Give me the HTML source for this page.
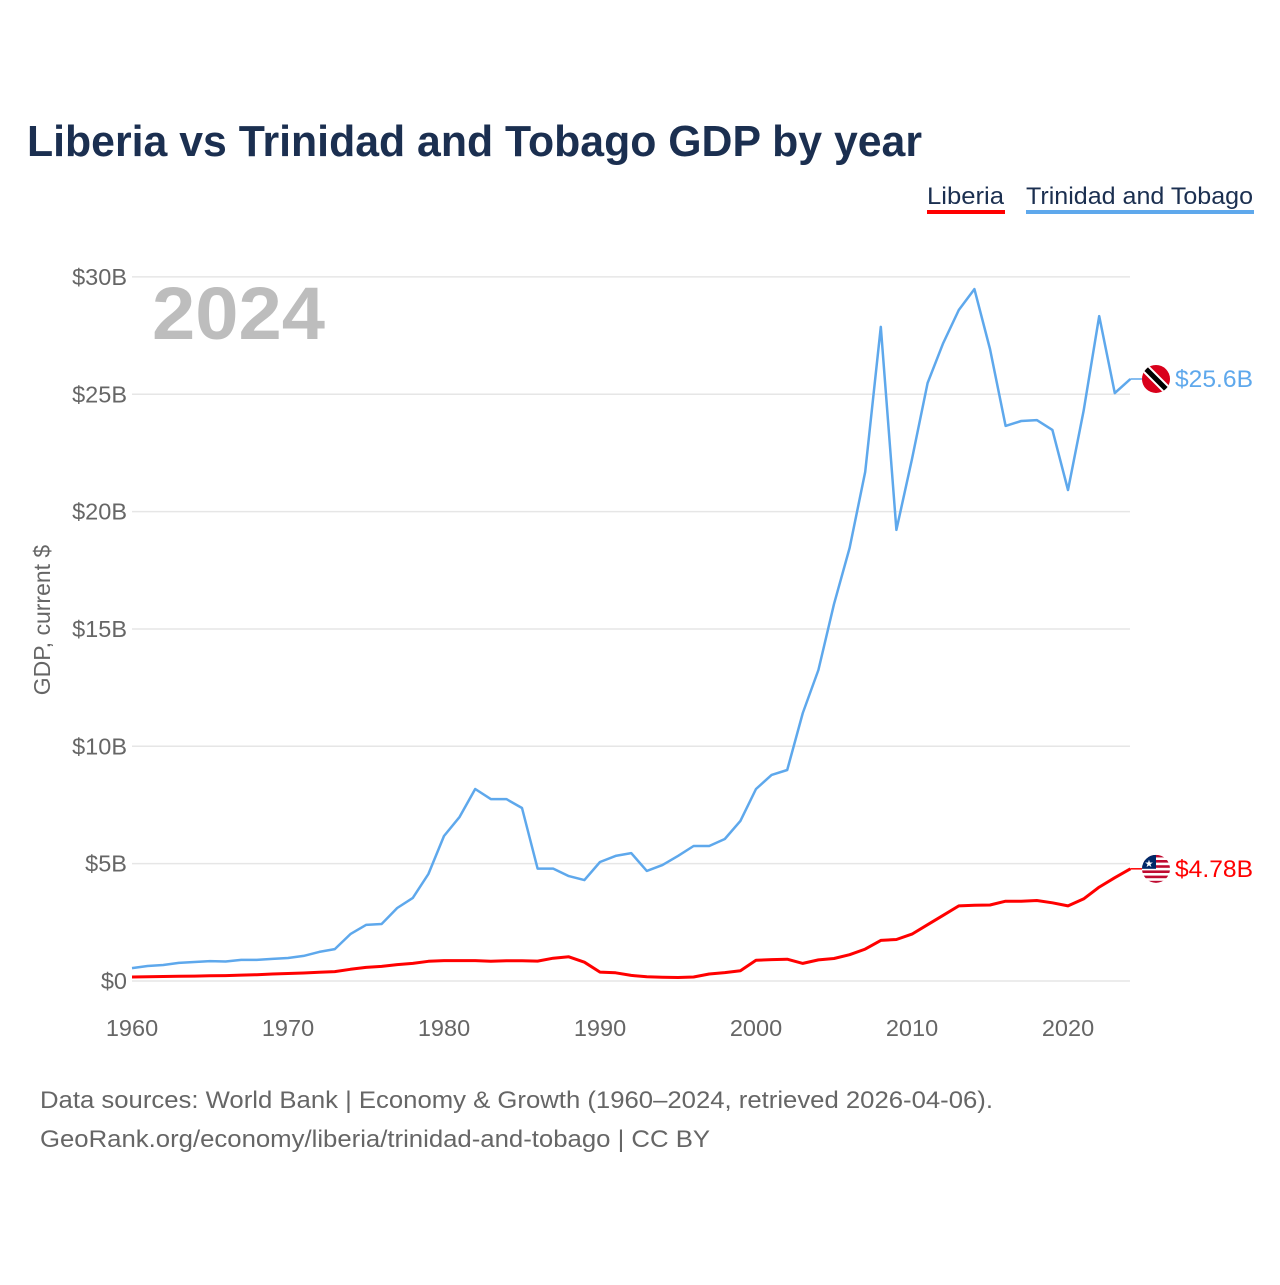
<!DOCTYPE html>
<html><head><meta charset="utf-8"><style>
body{margin:0;background:#fff;font-family:"Liberation Sans",sans-serif}
svg text{font-family:"Liberation Sans",sans-serif}
</style></head><body>
<svg width="1280" height="1280" viewBox="0 0 1280 1280" xmlns="http://www.w3.org/2000/svg">
<text x="27" y="156" font-size="44" font-weight="bold" fill="#1b2f50" textLength="895" lengthAdjust="spacingAndGlyphs">Liberia vs Trinidad and Tobago GDP by year</text>
<g>
<text x="927" y="204" font-size="24" fill="#1b2f50" textLength="77" lengthAdjust="spacingAndGlyphs">Liberia</text>
<rect x="927" y="210" width="78" height="4" fill="#ff0000"/>
<text x="1026" y="204" font-size="24" fill="#1b2f50" textLength="227" lengthAdjust="spacingAndGlyphs">Trinidad and Tobago</text>
<rect x="1026" y="210" width="228" height="4" fill="#5ea8ec"/>
</g>
<g id="grid"></g>
<text x="152" y="339" font-size="74" font-weight="bold" fill="#bdbdbd" textLength="173" lengthAdjust="spacingAndGlyphs">2024</text>
<text transform="translate(50,620) rotate(-90)" text-anchor="middle" font-size="23" fill="#666">GDP, current $</text>
<g id="lines"></g>
<text x="40" y="1108" font-size="24" fill="#666" textLength="953" lengthAdjust="spacingAndGlyphs">Data sources: World Bank | Economy &amp; Growth (1960–2024, retrieved 2026-04-06).</text>
<text x="40" y="1147" font-size="24" fill="#666" textLength="670" lengthAdjust="spacingAndGlyphs">GeoRank.org/economy/liberia/trinidad-and-tobago | CC BY</text>
</svg>
<script>
const years=[];for(let y=1960;y<=2024;y++)years.push(y);
const trinidad=[0.55,0.64,0.68,0.77,0.81,0.85,0.83,0.9,0.9,0.94,0.98,1.07,1.24,1.36,2.0,2.39,2.43,3.11,3.54,4.56,6.18,6.99,8.18,7.75,7.75,7.37,4.79,4.79,4.47,4.3,5.07,5.33,5.45,4.69,4.94,5.33,5.75,5.75,6.05,6.82,8.18,8.78,8.99,11.42,13.25,16.06,18.45,21.69,27.87,19.22,22.24,25.48,27.18,28.59,29.48,26.93,23.65,23.86,23.9,23.48,20.92,24.29,28.33,25.05,25.65];
const liberia=[0.17,0.18,0.19,0.2,0.21,0.22,0.23,0.25,0.27,0.3,0.32,0.34,0.37,0.4,0.5,0.58,0.62,0.7,0.75,0.84,0.87,0.87,0.87,0.84,0.86,0.86,0.85,0.97,1.03,0.8,0.38,0.35,0.24,0.18,0.16,0.15,0.17,0.3,0.36,0.44,0.88,0.91,0.93,0.75,0.9,0.96,1.12,1.36,1.73,1.77,2.0,2.4,2.8,3.2,3.23,3.24,3.4,3.4,3.43,3.33,3.2,3.5,4.0,4.4,4.78];
const yTicks=[0,5,10,15,20,25,30];
const yTickLabels=["$0","$5B","$10B","$15B","$20B","$25B","$30B"];
const xTicks=[1960,1970,1980,1990,2000,2010,2020];
const NS="http://www.w3.org/2000/svg";
const X=y=>132+(y-1960)*15.6, Y=v=>981-v*23.47;
const grid=document.getElementById('grid'),lines=document.getElementById('lines');
function mk(tag,attrs,parent,txt){const e=document.createElementNS(NS,tag);for(const k in attrs)e.setAttribute(k,attrs[k]);if(txt!==undefined)e.textContent=txt;parent.appendChild(e);return e;}
yTicks.forEach((v,i)=>{
 const l=mk('line',{x1:132,x2:1130,y1:Y(v),y2:Y(v),stroke:'#e6e6e6','stroke-width':1.5},grid);
 
 
 const t=mk('text',{x:127,y:Y(v)+8,'text-anchor':'end','font-size':23.5,fill:'#666'},grid,yTickLabels[i]);
 
 
});
xTicks.forEach(y=>{
 const t=mk('text',{x:X(y),y:1036,'text-anchor':'middle','font-size':23.5,fill:'#666'},grid,String(y));
 
 
});
function series(vals,color,name){
 const d=vals.map((v,i)=>(i?'L':'M')+X(years[i]).toFixed(1)+','+Y(v).toFixed(1)).join(' ');
 const p=mk('path',{d:d,fill:'none',stroke:color,'stroke-width':name==='liberia'?3:2.5,'stroke-linejoin':'round'},lines);
 
 
 const last=vals[vals.length-1],ex=X(years[years.length-1]),ey=Y(last);
 mk('line',{x1:ex,y1:ey,x2:1142,y2:ey,stroke:color,'stroke-width':1.5},lines);
 return [ex,ey,last];
}
const [tx,ty,tv]=series(trinidad,'#5ea8ec','trinidad');
const [lx,ly,lv]=series(liberia,'#ff0000','liberia');
const fg=mk('g',{},lines);


mk('clipPath',{id:'c1'},fg);
mk('circle',{cx:1156,cy:ty,r:14},fg.lastChild);
mk('circle',{cx:1156,cy:ty,r:14,fill:'#d9001b'},fg);
mk('line',{x1:1144,y1:ty-12,x2:1168,y2:ty+12,stroke:'#fff','stroke-width':9,'clip-path':'url(#c1)'},fg);
mk('line',{x1:1144,y1:ty-12,x2:1168,y2:ty+12,stroke:'#000','stroke-width':5,'clip-path':'url(#c1)'},fg);
const t1=mk('text',{x:1175,y:ty+8,'font-size':24,fill:'#5ea8ec',textLength:78,lengthAdjust:'spacingAndGlyphs'},lines,'$'+tv.toFixed(1)+'B');


const lg=mk('g',{},lines);


mk('clipPath',{id:'c2'},lg);
mk('circle',{cx:1156,cy:ly,r:14},lg.lastChild);
mk('circle',{cx:1156,cy:ly,r:14,fill:'#fff'},lg);
for(let i=0;i<6;i++)mk('rect',{x:1140,y:ly-14+i*5.2,width:32,height:2.6,fill:'#bf0a30','clip-path':'url(#c2)'},lg);
mk('rect',{x:1140,y:ly-14,width:16,height:14,fill:'#002868','clip-path':'url(#c2)'},lg);
mk('text',{x:1149,y:ly-2,'font-size':10,fill:'#fff','text-anchor':'middle'},lg,'★');
const t2=mk('text',{x:1175,y:ly+8,'font-size':24,fill:'#ff0000',textLength:78,lengthAdjust:'spacingAndGlyphs'},lines,'$'+lv.toFixed(2)+'B');


</script>
</body></html>
